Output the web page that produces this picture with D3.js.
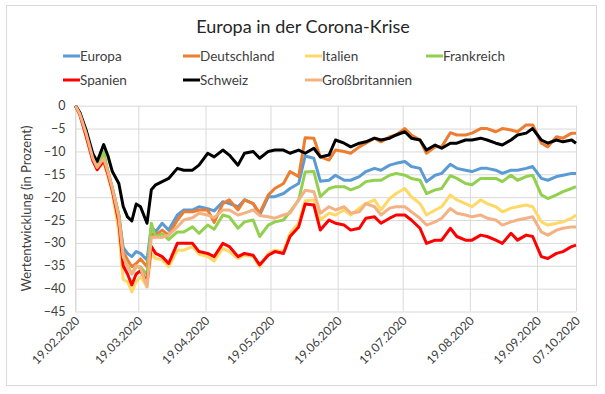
<!DOCTYPE html>
<html>
<head>
<meta charset="utf-8">
<script src="https://cdn.jsdelivr.net/npm/d3@7"></script>
<style>
  body { margin: 0; background: #fff; }
  svg { font-family: Lato, 'Open Sans', sans-serif; }
</style>
</head>
<body>
<div id="chart"></div>
<script>
const dates = [
  '2020-02-19', '2020-02-21', '2020-02-24', '2020-02-27', '2020-02-29', '2020-03-03', '2020-03-05', '2020-03-07',
  '2020-03-10', '2020-03-12', '2020-03-14', '2020-03-16', '2020-03-18', '2020-03-20', '2020-03-23', '2020-03-25',
  '2020-03-27', '2020-03-30', '2020-04-02', '2020-04-06', '2020-04-09', '2020-04-13', '2020-04-16', '2020-04-20',
  '2020-04-23', '2020-04-27', '2020-04-30', '2020-05-04', '2020-05-07', '2020-05-11', '2020-05-14', '2020-05-18',
  '2020-05-21', '2020-05-25', '2020-05-28', '2020-06-01', '2020-06-04', '2020-06-08', '2020-06-11', '2020-06-15',
  '2020-06-18', '2020-06-22', '2020-06-25', '2020-06-29', '2020-07-02', '2020-07-06', '2020-07-09', '2020-07-13',
  '2020-07-16', '2020-07-20', '2020-07-23', '2020-07-27', '2020-07-30', '2020-08-03', '2020-08-06', '2020-08-10',
  '2020-08-13', '2020-08-17', '2020-08-20', '2020-08-24', '2020-08-27', '2020-08-31', '2020-09-03', '2020-09-07',
  '2020-09-10', '2020-09-14', '2020-09-17', '2020-09-21', '2020-09-24', '2020-09-28', '2020-10-01', '2020-10-05',
  '2020-10-07',
];

const europa = [
  0, -1.8, -5.8, -11.5, -13.5, -11, -14.5, -18, -24, -31, -32.3, -33, -31.9, -32.3, -33.7, -26.5,
  -27.6, -25.7, -27.2, -23.9, -22.8, -22.8, -22.1, -22.5, -23, -21, -21.4, -22.1, -20.6, -21.4, -23.9, -19.9,
  -19.9, -19.2, -18.1, -17, -11, -11.5, -16.5, -16.3, -15.2, -16.3, -16.3, -15.5, -14.4, -13.7, -14.1, -13,
  -12.6, -12.2, -13.3, -13.7, -16.6, -15.2, -14.8, -12.8, -13.7, -14.1, -14.4, -13.7, -13.7, -14.1, -14.8, -14.1,
  -14.1, -13.7, -13.3, -15.9, -16.3, -15.5, -15.2, -14.8, -14.8,
];
const deutschland = [
  0, -1.5, -6, -11.5, -13.5, -11.5, -14.5, -18, -24, -32, -33.7, -35.2, -34.5, -33.5, -35.2, -28,
  -28.3, -27.2, -28.3, -25, -23.2, -23.2, -22.8, -22.8, -25.5, -21.4, -20.6, -22.8, -20.6, -21.4, -23.5, -19.5,
  -18.1, -17, -14.4, -15.5, -7, -7.1, -11.2, -11.9, -9.7, -10, -10.4, -9, -8.2, -7.1, -7.9, -6.8,
  -6.4, -5, -6.4, -7.5, -10.4, -9, -9, -5.9, -6.4, -6.4, -6, -5, -5, -5.7, -5, -5.3,
  -5.7, -4.2, -4.2, -8.2, -9, -6.8, -7.1, -6, -6,
];
const italien = [
  0, -2, -7, -12, -14, -12.5, -15.5, -19, -27.5, -38, -38.5, -40.7, -38.5, -37.4, -39.6, -32.3,
  -33.4, -33.7, -35.2, -31.6, -31.6, -30.8, -32.5, -33, -34, -31.2, -31.9, -33.4, -32.7, -33, -35.2, -32.3,
  -31.6, -31.9, -27.9, -25.7, -20.8, -20.6, -25, -23.5, -23.9, -22.8, -23.9, -22.4, -21.4, -20.6, -22.8, -20.3,
  -19.2, -18.1, -19.9, -21.4, -23.9, -22.8, -22.1, -19.5, -20.6, -21.4, -22.1, -20.6, -21.4, -22.1, -23.2, -22.4,
  -22.1, -21.7, -22.1, -25.4, -26.1, -25.7, -25.4, -24.6, -23.9,
];
const frankreich = [
  0, -1.8, -6, -11.5, -13.5, -10, -14.5, -18, -24, -33, -35, -36.8, -35.2, -35.2, -37, -25.7,
  -28.7, -28, -29.3, -27.6, -27.6, -26.5, -27.9, -26.1, -27, -23.9, -24.3, -26.8, -25.4, -25, -28.6, -26.1,
  -25.4, -25, -23.2, -20.6, -14.5, -14.4, -19.9, -18.1, -17.7, -17.7, -18.4, -17.7, -16.6, -16.3, -16.3, -15.2,
  -14.8, -15.2, -15.9, -16.3, -19.2, -18.4, -18.1, -15.3, -15.9, -17, -17.3, -15.9, -15.9, -15.9, -16.6, -15.2,
  -16.3, -15.5, -15.2, -19.5, -20.3, -19.5, -18.8, -18.1, -17.7,
];
const spanien = [
  0, -2, -6.8, -12, -14, -12, -15, -18.5, -25.5, -35, -36.8, -39.2, -36.8, -36.1, -38.5, -30.8,
  -32.3, -33, -34.5, -30.1, -30.1, -30.1, -31.9, -32.3, -33, -30.1, -30.8, -33, -32.3, -32.7, -34.8, -32.7,
  -31.9, -32.3, -28.6, -26.5, -21.5, -21.7, -27.2, -25, -25.7, -26.1, -27.2, -26.8, -24.6, -24.3, -25.7, -24.6,
  -23.9, -23.9, -25, -26.8, -30.1, -29.4, -29.4, -26.8, -28.6, -29.4, -29.4, -28.3, -28.6, -29.4, -30.1, -27.9,
  -29.4, -28.3, -28.6, -33, -33.4, -32.3, -31.9, -30.8, -30.5,
];
const schweiz = [
  0, -1.5, -5.5, -10.5, -12.2, -8.5, -11, -14.4, -17, -22, -24.3, -25.2, -21.5, -22.1, -25.7, -18.4,
  -17.3, -16.6, -15.9, -13.7, -14.1, -14.1, -13, -10.4, -11.2, -9.7, -10.8, -13, -10.4, -10, -11.5, -10,
  -9.7, -9.7, -10.4, -9.7, -10.4, -9.3, -11.2, -10.8, -7.5, -8.2, -9, -8.2, -7.9, -7.1, -7.5, -7.1,
  -6.4, -5.7, -7.1, -7.5, -9.7, -8.6, -9.3, -8.2, -8.2, -7.5, -7.5, -7.1, -7.5, -8.2, -8.6, -7.5,
  -6.4, -6, -5, -7.5, -8.2, -7.5, -7.9, -7.5, -8.2,
];
const grossbritannien = [
  0, -1.8, -6.2, -11.5, -13.5, -11.5, -14.5, -18, -24.5, -33, -35.2, -36.8, -35, -35.5, -39.6, -28.8,
  -28.7, -28.8, -28.3, -26.5, -25, -24.5, -23.5, -23.9, -24.5, -22.8, -22.8, -23.9, -23.5, -22.8, -24, -24.3,
  -24.6, -23.9, -23.5, -20.6, -18.5, -18.8, -23.5, -22.1, -22.8, -22.1, -23.5, -23.2, -21.4, -22.1, -23.9, -22.4,
  -22.1, -22.1, -23.2, -24.6, -26.1, -25.4, -24.6, -22.5, -23.5, -23.9, -24.3, -23.9, -24.6, -25, -26.1, -25.4,
  -25, -24.6, -24.3, -27.6, -28.3, -27.2, -26.8, -26.5, -26.5,
];

const seriesNames = ['Europa', 'Deutschland', 'Italien', 'Frankreich', 'Spanien', 'Schweiz', 'Großbritannien'];
const seriesValues = [europa, deutschland, italien, frankreich, spanien, schweiz, grossbritannien];
const seriesColors = ['#5B9BD5', '#ED7D31', '#FFD966', '#92D050', '#FF0000', '#000000', '#F4B183'];
const xTickDates = ['2020-02-19', '2020-03-19', '2020-04-19', '2020-05-19', '2020-06-19',
  '2020-07-19', '2020-08-19', '2020-09-19', '2020-10-07'];
const yTicks = [0, -5, -10, -15, -20, -25, -30, -35, -40, -45];

const width = 605;
const height = 394;
const plot = { left: 75.5, right: 576, top: 105.7, bottom: 311.5 };
const parse = d3.timeParse('%Y-%m-%d');
const fmt = d3.timeFormat('%d.%m.%Y');

const svg = d3.select('#chart').append('svg')
  .attr('width', width)
  .attr('height', height);

// outer frame
svg.append('rect')
  .attr('x', 6.5).attr('y', 5.5)
  .attr('width', 590).attr('height', 380)
  .attr('fill', '#fff')
  .attr('stroke', '#D9D9D9');

svg.append('text')
  .attr('x', 303).attr('y', 33)
  .attr('text-anchor', 'middle')
  .attr('font-size', 18)
  .attr('fill', '#262626')
  .text('Europa in der Corona-Krise');

const x = d3.scaleTime()
  .domain([parse(dates[0]), parse(dates[dates.length - 1])])
  .range([plot.left, plot.right]);
const y = d3.scaleLinear().domain([-45, 0]).range([plot.bottom, plot.top]);

// horizontal gridlines + y labels
svg.append('g')
  .attr('transform', `translate(${plot.left},0)`)
  .call(d3.axisLeft(y).tickValues(yTicks).tickSize(-(plot.right - plot.left)).tickPadding(10))
  .call((g) => g.select('.domain').remove())
  .call((g) => g.selectAll('line').attr('stroke', '#D9D9D9'))
  .call((g) => g.selectAll('text').attr('font-size', 12.5).attr('fill', '#404040')
    .attr('font-family', 'Lato, sans-serif'));

// vertical gridlines
const xTicks = xTickDates.map(parse);
svg.append('g')
  .attr('transform', `translate(0,${plot.bottom})`)
  .call(d3.axisBottom(x).tickValues(xTicks).tickSize(-(plot.bottom - plot.top)).tickFormat(''))
  .call((g) => g.select('.domain').remove())
  .call((g) => g.selectAll('line').attr('stroke', '#D9D9D9'));
svg.append('line')
  .attr('x1', plot.left).attr('x2', plot.left)
  .attr('y1', plot.top).attr('y2', plot.bottom)
  .attr('stroke', '#D9D9D9');

// rotated date labels
svg.append('g').selectAll('text')
  .data(xTicks)
  .join('text')
  .attr('transform', (d) => `translate(${x(d) + 5},${plot.bottom + 10}) rotate(-45)`)
  .attr('text-anchor', 'end')
  .attr('font-size', 12)
  .attr('fill', '#404040')
  .text((d) => fmt(d));

svg.append('text')
  .attr('transform', `translate(31,${(plot.top + plot.bottom) / 2}) rotate(-90)`)
  .attr('text-anchor', 'middle')
  .attr('font-size', 13)
  .attr('fill', '#404040')
  .text('Wertentwicklung (in Prozent)');

// lines
const line = d3.line()
  .x((d) => x(d.date))
  .y((d) => y(d.v));
seriesValues.forEach((vals, i) => {
  const pts = vals.map((v, j) => ({ date: parse(dates[j]), v }));
  svg.append('path')
    .datum(pts)
    .attr('fill', 'none')
    .attr('stroke', seriesColors[i])
    .attr('stroke-width', 3)
    .attr('stroke-linejoin', 'round')
    .attr('d', line);
});

// legend
const legendCols = [63, 183, 305, 426];
const legendRows = [56, 80];
seriesNames.forEach((name, i) => {
  const lx = legendCols[i % 4];
  const ly = legendRows[Math.floor(i / 4)];
  svg.append('line')
    .attr('x1', lx).attr('x2', lx + 17)
    .attr('y1', ly).attr('y2', ly)
    .attr('stroke', seriesColors[i])
    .attr('stroke-width', 3);
  svg.append('text')
    .attr('x', lx + 17).attr('y', ly + 4.5)
    .attr('font-size', 13.5)
    .attr('fill', '#404040')
    .text(name);
});
</script>
</body>
</html>
